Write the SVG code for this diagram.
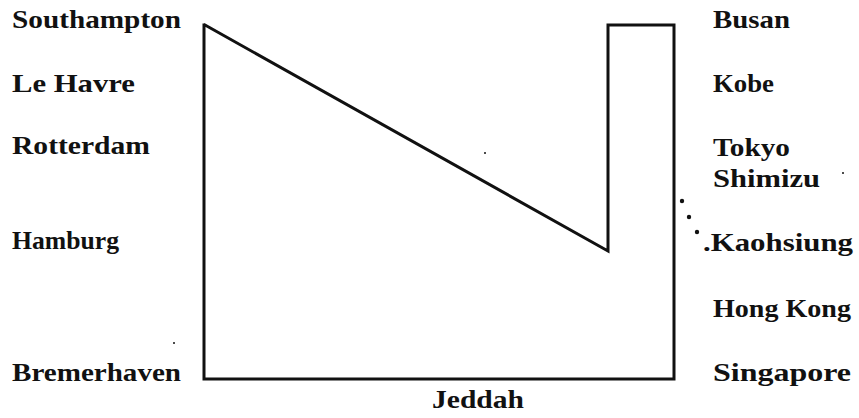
<svg xmlns="http://www.w3.org/2000/svg" width="859" height="418" viewBox="0 0 859 418">
<style>
text{font-family:"Liberation Serif","Times New Roman",serif;font-size:25px;font-weight:bold;fill:#111}
.ln{fill:none;stroke:#111;stroke-width:3;stroke-linejoin:miter;stroke-linecap:square}
.dot{fill:#111}
</style>
<rect width="859" height="418" fill="#fff"/>
<g id="connectors">
<path class="ln" d="M204,25 L204,379 L674,379 L674,25 L608,25 L608,251 L205,25"/>
<g id="dotted-trail">
<circle class="dot" cx="682" cy="201" r="2.2"/>
<circle class="dot" cx="689" cy="217" r="2.2"/>
<circle class="dot" cx="697" cy="232" r="2.2"/>
</g>
</g>
<g id="specks">
<circle class="dot" cx="485" cy="153" r="1"/>
<circle class="dot" cx="843" cy="173" r="1"/>
<circle class="dot" cx="174" cy="343" r="1"/>
</g>
<g id="node-southampton"><text x="12" y="28" textLength="169" lengthAdjust="spacingAndGlyphs">Southampton</text></g>
<g id="node-le-havre"><text x="12" y="92" textLength="123" lengthAdjust="spacingAndGlyphs">Le Havre</text></g>
<g id="node-rotterdam"><text x="12" y="154" textLength="138" lengthAdjust="spacingAndGlyphs">Rotterdam</text></g>
<g id="node-hamburg"><text x="12" y="249" textLength="107" lengthAdjust="spacingAndGlyphs">Hamburg</text></g>
<g id="node-bremerhaven"><text x="12" y="381" textLength="169" lengthAdjust="spacingAndGlyphs">Bremerhaven</text></g>
<g id="node-busan"><text x="713" y="28" textLength="77" lengthAdjust="spacingAndGlyphs">Busan</text></g>
<g id="node-kobe"><text x="713" y="92" textLength="61" lengthAdjust="spacingAndGlyphs">Kobe</text></g>
<g id="node-tokyo"><text x="713" y="156" textLength="77" lengthAdjust="spacingAndGlyphs">Tokyo</text></g>
<g id="node-shimizu"><text x="713" y="187" textLength="107" lengthAdjust="spacingAndGlyphs">Shimizu</text></g>
<g id="node-kaohsiung"><text x="703" y="251" textLength="150" lengthAdjust="spacingAndGlyphs">.Kaohsiung</text></g>
<g id="node-hong-kong"><text x="713" y="317" textLength="138" lengthAdjust="spacingAndGlyphs">Hong Kong</text></g>
<g id="node-singapore"><text x="713" y="381" textLength="138" lengthAdjust="spacingAndGlyphs">Singapore</text></g>
<g id="node-jeddah"><text x="432" y="408" textLength="92" lengthAdjust="spacingAndGlyphs">Jeddah</text></g>
</svg>
